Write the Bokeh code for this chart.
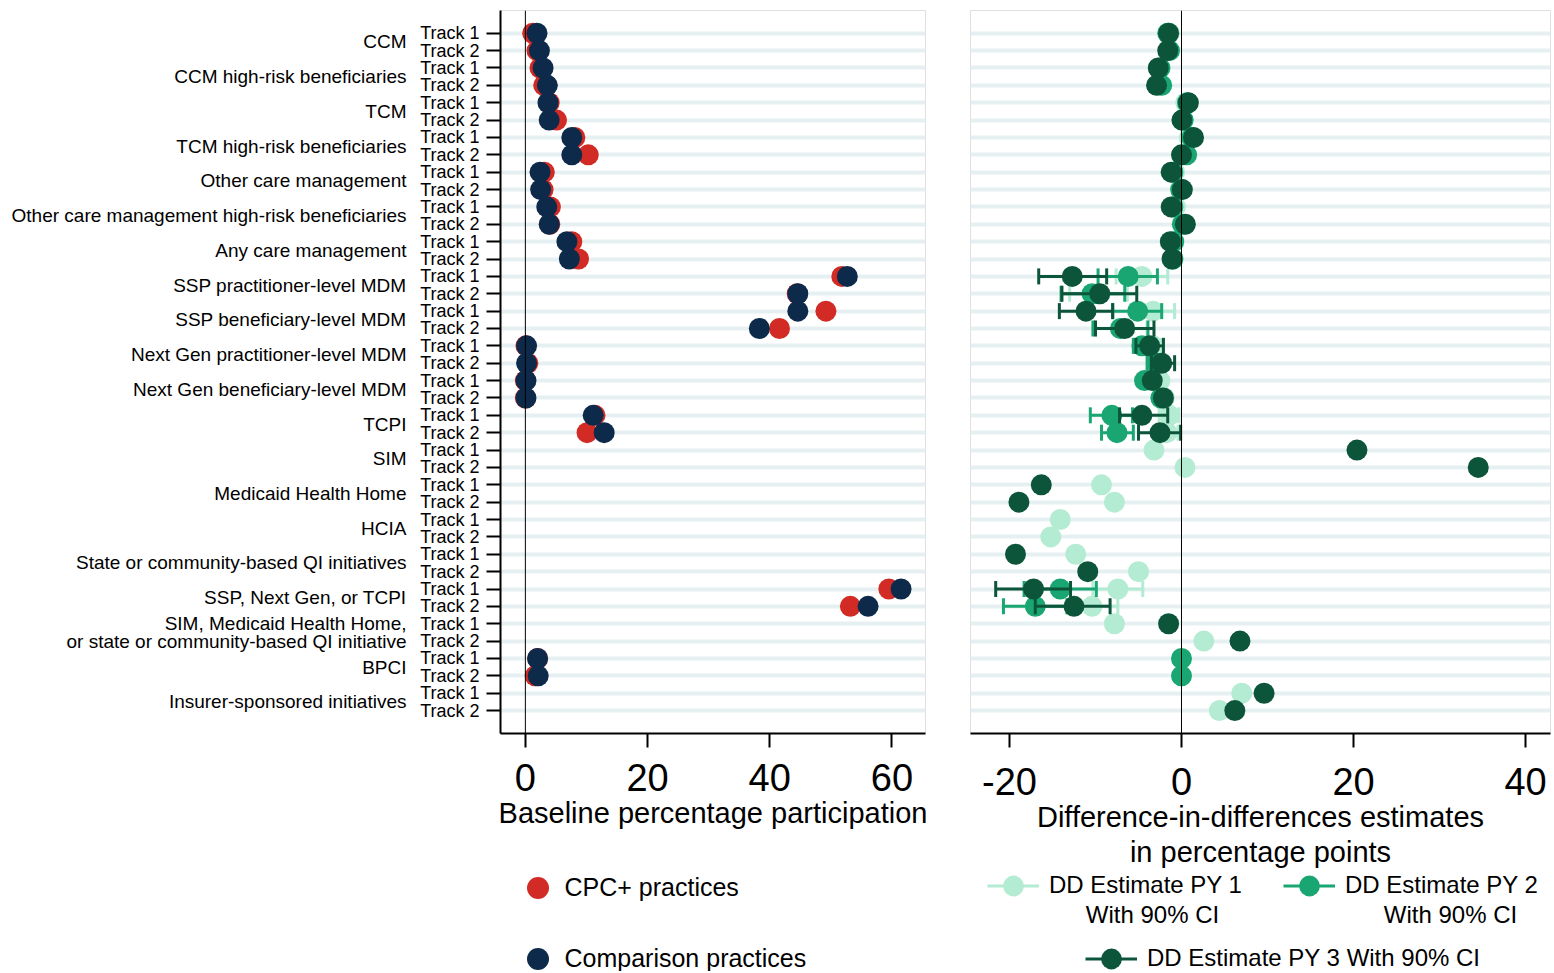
import numpy as np
from bokeh.plotting import figure
from bokeh.layouts import row, column
from bokeh.models import (Range1d, FixedTicker, LinearAxis, Grid, Span, Legend,
                          LegendItem, Label, ColumnDataSource)
from bokeh.embed import file_html
from bokeh.resources import INLINE

nan = float("nan")

# ---------------- data ----------------
groups = ["CCM", "CCM high-risk beneficiaries", "TCM", "TCM high-risk beneficiaries",
          "Other care management", "Other care management high-risk beneficiaries",
          "Any care management", "SSP practitioner-level MDM", "SSP beneficiary-level MDM",
          "Next Gen practitioner-level MDM", "Next Gen beneficiary-level MDM", "TCPI", "SIM",
          "Medicaid Health Home", "HCIA", "State or community-based QI initiatives",
          "SSP, Next Gen, or TCPI",
          "SIM, Medicaid Health Home,\nor state or community-based QI initiative",
          "BPCI", "Insurer-sponsored initiatives"]
tracks = ["Track 1", "Track 2"]

cpc_baseline = [1.2, 1.9, 2.4, 3.0, 3.9, 5.1, 8.1, 10.3, 3.1, 2.9, 4.1, 4.0, 7.6, 8.7,
                51.8, 44.5, 49.2, 41.6, 0.1, 0.4, 0.0, 0.0, 11.4, 10.1,
                nan, nan, nan, nan, nan, nan, nan, nan,
                59.5, 53.2, nan, nan, 2.0, 1.6, nan, nan]
comparison_baseline = [1.9, 2.3, 2.9, 3.6, 3.7, 3.9, 7.6, 7.6, 2.4, 2.5, 3.5, 3.9, 6.8, 7.2,
                       52.7, 44.6, 44.6, 38.3, 0.2, 0.2, 0.1, 0.1, 11.1, 12.9,
                       nan, nan, nan, nan, nan, nan, nan, nan,
                       61.5, 56.1, nan, nan, 2.0, 2.1, nan, nan]

dd_py1 = [-1.4, -1.4, -2.6, -2.6, 0.5, 0.1, 0.9, 0.3, -0.8, 0.0, -0.7, 0.3, -1.1, -1.0,
          -4.6, -9.6, -3.3, -7.0, -3.3, -2.6, -2.5, -2.0, -1.4, -1.7,
          -3.2, 0.4, -9.3, -7.8, -14.1, -15.2, -12.3, -5.0,
          -7.4, -10.4, -7.8, 2.6, nan, nan, 7.0, 4.4]
dd_py1_lo = [nan] * 14 + [-7.6, -13.0, -5.9, -10.0, -4.3, -3.6, nan, nan, -2.6, -3.0] + \
            [nan] * 8 + [-10.3, -13.4] + [nan] * 6
dd_py1_hi = [nan] * 14 + [-1.6, -6.3, -0.8, -4.0, -2.3, -1.6, nan, nan, -0.3, -0.4] + \
            [nan] * 8 + [-4.5, -7.4] + [nan] * 6

dd_py2 = [-1.6, -1.4, -2.5, -2.3, 0.7, 0.2, 1.2, 0.6, -1.0, -0.1, -1.0, 0.1, -0.9, -1.0,
          -6.2, -10.4, -5.1, -7.1, -4.6, -2.9, -4.3, -2.4, -8.1, -7.5,
          nan, nan, nan, nan, nan, nan, nan, nan,
          -14.1, -17.0, nan, nan, 0.0, 0.0, nan, nan]
dd_py2_lo = [nan] * 14 + [-9.7, -14.0, -8.0, -10.3, -5.6, -4.0, nan, nan, -10.6, -9.3] + \
            [nan] * 8 + [-18.3, -20.7] + [nan] * 6
dd_py2_hi = [nan] * 14 + [-2.8, -6.6, -2.3, -3.9, -3.6, -1.8, nan, nan, -5.7, -5.6] + \
            [nan] * 8 + [-9.9, -13.3] + [nan] * 6

dd_py3 = [-1.5, -1.6, -2.7, -2.9, 0.8, 0.05, 1.4, 0.0, -1.2, 0.1, -1.2, 0.45, -1.3, -1.1,
          -12.7, -9.5, -11.1, -6.6, -3.7, -2.3, -3.4, -2.1, -4.6, -2.5,
          20.4, 34.5, -16.3, -18.9, nan, nan, -19.3, -10.9,
          -17.2, -12.5, -1.5, 6.8, nan, nan, 9.6, 6.2]
dd_py3_lo = [nan] * 14 + [-16.6, -13.9, -14.2, -10.0, -5.3, -3.5, nan, nan, -7.2, -5.0] + \
            [nan] * 8 + [-21.6, -17.0] + [nan] * 6
dd_py3_hi = [nan] * 14 + [-8.7, -5.2, -8.0, -3.2, -2.1, -0.8, nan, nan, -1.6, -0.1] + \
            [nan] * 8 + [-12.9, -8.3] + [nan] * 6

left_ticks = [0, 20, 40, 60]
right_ticks = [-20, 0, 20, 40]

baseline_legend = ["CPC+ practices", "Comparison practices"]
dd_legend = ["DD Estimate PY 1", "DD Estimate PY 2", "DD Estimate PY 3 With 90% CI"]
ci_note = "With 90% CI"

# ---------------- style ----------------
FONT = "Liberation Sans"
RED = "#d22b26"
NAVY = "#0e2a4b"
LIGHT = "#b3ebd3"
MED = "#19a672"
DARK = "#0d553a"
BAND = "#e6eff1"

rows = list(range(1, 41))
track_labels = {r: tracks[(r - 1) % 2] for r in rows}
group_pos, group_text = [], {}
for i, g in enumerate(groups):
    parts = g.split("\n")
    if len(parts) == 1:
        pos = 2 * i + 1.5
        group_pos.append(pos)
        group_text[pos] = g
    else:
        for k, t in enumerate(parts):
            pos = 2 * i + 1 + k
            group_pos.append(pos)
            group_text[pos] = t

Y_RANGE = (41.32, -0.31)
TOP_BOTTOM_BORDER = 136
LEG_H = 101


def base_fig(**kw):
    p = figure(frame_height=723, min_border_top=10, min_border_bottom=TOP_BOTTOM_BORDER,
               y_range=Range1d(*Y_RANGE), output_backend="svg", toolbar_location=None,
               background_fill_color="white", border_fill_color="white", **kw)
    p.grid.visible = False
    p.outline_line_color = "#e0e0e0"
    p.add_layout(Grid(dimension=1, ticker=FixedTicker(ticks=rows),
                      grid_line_color=BAND, grid_line_width=4))
    p.add_layout(Span(location=0, dimension="height", line_color="black", line_width=1))
    return p


def style_xaxis(ax, ticks, standoff, label_standoff):
    ax.ticker = FixedTicker(ticks=ticks)
    ax.major_label_overrides = {t: str(t) for t in ticks}
    ax.major_label_text_font = FONT
    ax.major_label_text_font_size = "38px"
    ax.major_label_text_color = "black"
    ax.major_label_standoff = standoff
    ax.major_tick_out = 14
    ax.major_tick_in = 0
    ax.major_tick_line_width = 2
    ax.major_tick_line_color = "black"
    ax.minor_tick_line_color = None
    ax.axis_line_width = 2
    ax.axis_line_color = "black"
    ax.axis_label_text_font = FONT
    ax.axis_label_text_font_size = "29px"
    ax.axis_label_text_font_style = "normal"
    ax.axis_label_text_color = "black"
    ax.axis_label_standoff = label_standoff
    ax.axis_label_text_line_height = 1.1


def legend_fig(width):
    p = figure(width=width, height=LEG_H, min_border=0, x_range=Range1d(0, 1),
               y_range=Range1d(0, 1), x_axis_location=None, y_axis_location=None,
               output_backend="svg", toolbar_location=None)
    p.grid.visible = False
    p.outline_line_color = None
    p.background_fill_alpha = 0
    p.border_fill_alpha = 0
    return p


# ---------------- left panel ----------------
left = base_fig(frame_width=425, min_border_left=500, min_border_right=20,
                x_range=Range1d(-4.07, 65.5))
style_xaxis(left.xaxis[0], left_ticks, 16, 3)
left.xaxis[0].axis_label = "Baseline percentage participation"

ya = left.yaxis[0]
ya.ticker = FixedTicker(ticks=rows)
ya.major_label_overrides = track_labels
ya.major_label_text_font = FONT
ya.major_label_text_font_size = "18px"
ya.major_label_text_color = "black"
ya.major_tick_out = 14
ya.major_tick_in = 0
ya.major_tick_line_width = 2
ya.minor_tick_line_color = None
ya.axis_line_width = 2
ya.major_label_standoff = 7

gaxis = LinearAxis(ticker=FixedTicker(ticks=group_pos), major_label_overrides=group_text,
                   axis_line_color=None, major_tick_line_color=None,
                   minor_tick_line_color=None, major_tick_out=0, major_tick_in=0,
                   major_label_standoff=11, major_label_text_font=FONT,
                   major_label_text_font_size="19px", major_label_text_color="black")
left.add_layout(gaxis, "left")

lsrc = ColumnDataSource(dict(row=np.array(rows, dtype=float),
                             cpc=np.array(cpc_baseline, dtype=float),
                             comp=np.array(comparison_baseline, dtype=float)))
left.scatter("cpc", "row", source=lsrc, size=21, fill_color=RED, line_color=None)
left.scatter("comp", "row", source=lsrc, size=21, fill_color=NAVY, line_color=None)

# ---------------- right panel ----------------
right = base_fig(frame_width=580, min_border_left=25, min_border_right=4,
                 x_range=Range1d(-24.53, 42.9), y_axis_location=None)
style_xaxis(right.xaxis[0], right_ticks, 20, 3)
right.xaxis[0].axis_label = "Difference-in-differences estimates\nin percentage points"

series = [(dd_py1, dd_py1_lo, dd_py1_hi, LIGHT),
          (dd_py2, dd_py2_lo, dd_py2_hi, MED),
          (dd_py3, dd_py3_lo, dd_py3_hi, DARK)]
for est, lo, hi, col in series:
    s = ColumnDataSource(dict(row=np.array(rows, dtype=float),
                              est=np.array(est, dtype=float),
                              lo=np.array(lo, dtype=float),
                              hi=np.array(hi, dtype=float)))
    right.segment(x0="lo", y0="row", x1="hi", y1="row", source=s,
                  line_color=col, line_width=3)
    right.scatter("lo", "row", source=s, marker="dash", angle=np.pi / 2, size=16,
                  line_color=col, line_width=3)
    right.scatter("hi", "row", source=s, marker="dash", angle=np.pi / 2, size=16,
                  line_color=col, line_width=3)
    right.scatter("est", "row", source=s, size=21, fill_color=col, line_color=None)

# ---------------- legend row ----------------
leg_left = legend_fig(945)
empty = ColumnDataSource(dict(x=[nan], y=[nan]))
l_items = []
for name, col in zip(baseline_legend, [RED, NAVY]):
    r = leg_left.scatter("x", "y", source=empty, size=21, fill_color=col, line_color=None)
    l_items.append(LegendItem(label=name, renderers=[r]))
leg_left.add_layout(Legend(items=l_items, location=(509.5, -14.5), orientation="vertical",
                           glyph_width=55, glyph_height=55, spacing=16, label_standoff=0,
                           padding=0, margin=0, border_line_color=None,
                           background_fill_alpha=0, label_text_font=FONT,
                           label_text_font_size="25px", label_text_color="black"))

leg_right = legend_fig(609)
r_items = []
for name, (_, _, _, col) in zip(dd_legend, series):
    seg = leg_right.segment(x0="x", y0="y", x1="x", y1="y", source=empty,
                            line_color=col, line_width=3)
    dot = leg_right.scatter("x", "y", source=empty, size=21, fill_color=col, line_color=None)
    r_items.append(LegendItem(label=name, renderers=[seg, dot]))
leg_common = dict(glyph_width=52, glyph_height=55, label_standoff=10, padding=0, margin=0,
                  border_line_color=None, background_fill_alpha=0, label_text_font=FONT,
                  label_text_font_size="24px", label_text_color="black")
leg_right.add_layout(Legend(items=r_items[:2], location=(42, 58.5), orientation="horizontal",
                            spacing=41, **leg_common))
leg_right.add_layout(Legend(items=r_items[2:], location=(140, -14.5),
                            orientation="horizontal", **leg_common))
for cx in (207, 505):
    leg_right.add_layout(Label(x=cx, y=57, x_units="screen", y_units="screen",
                               text=ci_note, text_align="center", text_baseline="middle",
                               text_font=FONT, text_font_size="24px", text_color="black"))

layout = column(row(left, right), row(leg_left, leg_right))
open("out.html", "w").write(file_html(layout, INLINE))
